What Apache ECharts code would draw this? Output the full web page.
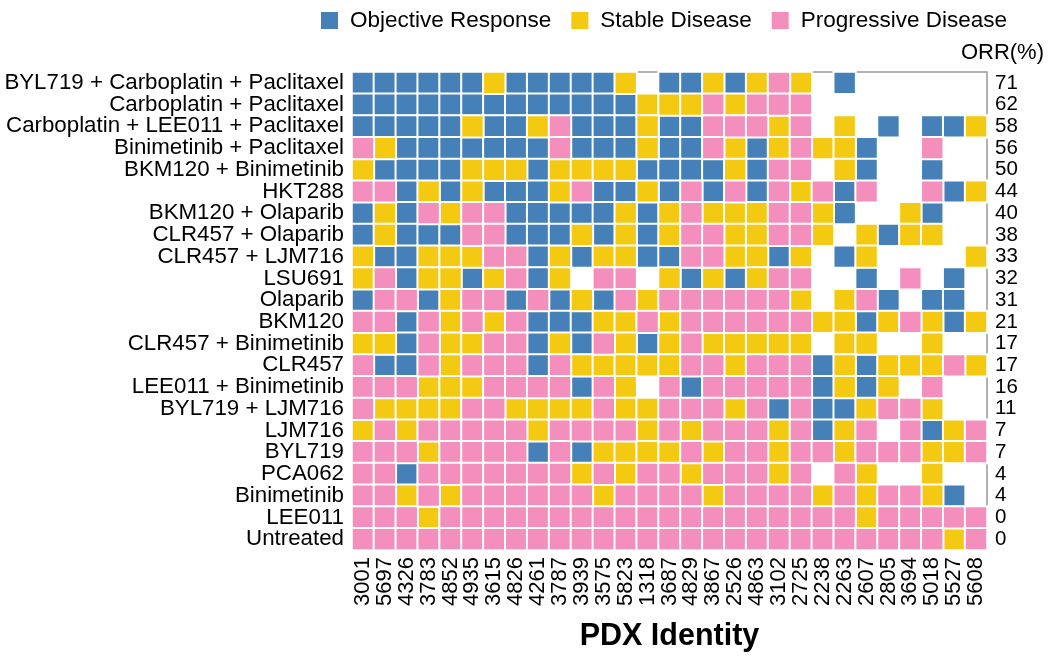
<!DOCTYPE html>
<html>
<head>
<meta charset="utf-8">
<script src="https://cdn.jsdelivr.net/npm/echarts@6/dist/echarts.min.js"></script>
<style>
html,body{margin:0;padding:0;background:#fff;}
#chart{width:1050px;height:657px;}
</style>
</head>
<body>
<div id="chart"></div>
<script>
var treatments = [
	'BYL719 + Carboplatin + Paclitaxel', 'Carboplatin + Paclitaxel', 'Carboplatin + LEE011 + Paclitaxel',
	'Binimetinib + Paclitaxel', 'BKM120 + Binimetinib', 'HKT288', 'BKM120 + Olaparib', 'CLR457 + Olaparib',
	'CLR457 + LJM716', 'LSU691', 'Olaparib', 'BKM120', 'CLR457 + Binimetinib', 'CLR457',
	'LEE011 + Binimetinib', 'BYL719 + LJM716', 'LJM716', 'BYL719', 'PCA062', 'Binimetinib', 'LEE011', 'Untreated'
];
var pdxIds = ['3001','5697','4326','3783','4852','4935','3615','4826','4261','3787','3939','3575','5823','1318',
	'3687','4829','3867','2526','4863','3102','2725','2238','2263','2607','2805','3694','5018','5527','5608'];
var orr = [71, 62, 58, 56, 50, 44, 40, 38, 33, 32, 31, 21, 17, 17, 16, 11, 7, 7, 4, 4, 0, 0];

// O = objective response, S = stable disease, P = progressive disease, . = not tested
var responses = [
	'OOOOOOSOOO' + 'OOS.OOSOSP' + 'S.O......',
	'OOOOOOOOOO' + 'OOOSSSPSPP' + 'P........',
	'OOOOOSOOSP' + 'OOOSOOPPPS' + 'P.S.O.OOS',
	'PSOOOOOOOP' + 'OOOSOOPSOS' + 'PSSO..P..',
	'SOOOOSSSOS' + 'SSSOOOOSOP' + 'P.SO..O..',
	'PPOSOSOOOS' + 'POOSOPOPOP' + 'SPOP..POS',
	'OSOPSPPOOO' + 'OOSOSPSSSP' + 'PSO..SO..',
	'OSOOOPPOOO' + 'SOSOSPPSSP' + 'PS.SOSS..',
	'SOOSSSPPOS' + 'OSSOOPPSSO' + 'S.OS....S',
	'SPOSSOSPOS' + '.PP.SOSOSP' + 'P..O.P.O.',
	'OPPOSPPOPO' + 'SOPSPPPPPP' + 'S.SPO.OO.',
	'PPOPSPSPOO' + 'OSSPSPPPPP' + 'PSSOSPSOS',
	'SSOPSSPPOS' + 'OPSOSPSSSS' + 'S.SS..S..',
	'POOPSPPPOP' + 'SSSSSPPSPP' + 'POSOSSSPS',
	'PPPSSSPPPP' + 'OPS.POPPPP' + 'POSOS.P..',
	'PSSSSPPSSS' + 'SPSSPPPSPO' + 'POOSPPS..',
	'SPSPPPPPSP' + 'PPPSPSPPPS' + 'POSP.POSP',
	'PPPSPPPPOP' + 'OSSSSPSPPS' + 'PPSPPPSSP',
	'PPOPPPPPPP' + 'SPSPPSPPPS' + 'P.PS..S..',
	'PPSPSPPPPP' + 'PSPPPPSPPP' + 'PSPSPPSO.',
	'PPPSPPPPPP' + 'PPPPPPPPPP' + 'PPPSPPPPP',
	'PPPPPPPPPP' + 'PPPPPPPPPP' + 'PPPPPPPSP'
];

var groups = [
	{code:'O', name:'Objective Response', color:'#4581b8'},
	{code:'S', name:'Stable Disease', color:'#f4c911'},
	{code:'P', name:'Progressive Disease', color:'#f48fbd'}
];

var font = 'Liberation Sans, Arial, sans-serif';

var series = [];
for (var g = 0; g < groups.length; g++) {
	var cells = [];
	for (var r = 0; r < responses.length; r++) {
		for (var c = 0; c < pdxIds.length; c++) {
			if (responses[r].charAt(c) == groups[g].code) {
				cells.push([c, r, 1]);
			}
		}
	}
	series.push({
		name: groups[g].name,
		type: 'heatmap',
		data: cells,
		itemStyle: {
			color: groups[g].color,
			borderColor: '#fff',
			borderWidth: 2
		},
		emphasis: {disabled: true}
	});
}

var chart = echarts.init(document.getElementById('chart'));
var option = {
	animation: false,
	color: groups.map(function(d){ return d.color; }),
	title: {
		text: 'ORR(%)',
		right: 1,
		top: 37,
		textStyle: {fontFamily: font, fontSize: 22, fontWeight: 'normal', color: '#000'}
	},
	legend: {
		left: 314,
		top: 4,
		icon: 'rect',
		itemWidth: 19,
		itemHeight: 19,
		itemGap: 18,
		selectedMode: false,
		data: groups.map(function(d){ return d.name; }),
		textStyle: {fontFamily: font, fontSize: 22.5, color: '#000', padding: [0, 0, 0, 6]}
	},
	grid: {
		left: 352,
		right: 63,
		top: 72,
		bottom: 102,
		show: true,
		borderColor: '#999',
		borderWidth: 1.5,
		backgroundColor: '#fff'
	},
	xAxis: {
		type: 'category',
		data: pdxIds,
		name: 'PDX Identity',
		nameLocation: 'middle',
		nameGap: 71,
		nameTextStyle: {fontFamily: font, fontSize: 30.5, fontWeight: 'bold', color: '#000'},
		axisLine: {show: false},
		axisTick: {show: false},
		splitLine: {show: false},
		axisLabel: {rotate: 90, margin: 7, fontFamily: font, fontSize: 22, color: '#000', interval: 0}
	},
	yAxis: [
		{
			type: 'category',
			data: treatments,
			inverse: true,
			axisLine: {show: false},
			axisTick: {show: false},
			splitLine: {show: false},
			axisLabel: {margin: 8, fontFamily: font, fontSize: 22.3, color: '#000', interval: 0}
		},
		{
			type: 'category',
			data: orr.map(String),
			inverse: true,
			position: 'right',
			axisLine: {show: false},
			axisTick: {show: false},
			splitLine: {show: false},
			axisLabel: {margin: 8, fontFamily: font, fontSize: 20.5, color: '#000', interval: 0}
		}
	],
	series: series
};
chart.setOption(option);
</script>
</body>
</html>
